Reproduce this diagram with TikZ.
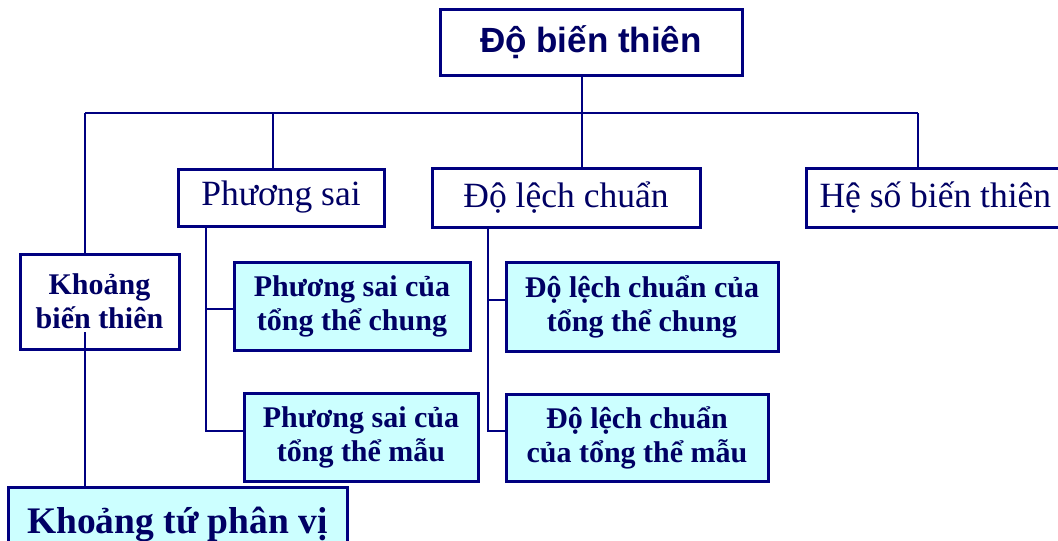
\documentclass[tikz,border=0pt]{standalone}
\usepackage{fontspec}
\setmainfont{Liberation Serif}
\newfontfamily\arialfont{Liberation Sans}
\definecolor{navyline}{RGB}{0,0,128}
\definecolor{navytext}{RGB}{0,0,100}
\definecolor{lightcyan}{RGB}{204,255,255}
\begin{document}
\begin{tikzpicture}[x=1pt,y=-1pt,
  box/.style={draw=navyline,line width=3pt,text=navytext,inner sep=0pt,align=center},
  whitebox/.style={box,fill=white},
  cyanbox/.style={box,fill=lightcyan},
  big/.style={font=\fontsize{35.5}{40}\selectfont},
  small/.style={font=\fontsize{30}{34}\selectfont\bfseries},
  link/.style={draw=navyline,line width=2.6pt}]
\useasboundingbox (0,0) rectangle (1058,541);
\clip (0,0) rectangle (1058,541);
% nodes
\node[whitebox,minimum width=302,minimum height=66,font=\arialfont\bfseries\fontsize{35}{40}\selectfont] (top) at (591,42) {Độ biến thiên};
\node[whitebox,big,minimum width=206,minimum height=57] (ps) at (281,197.5) {Phương sai};
\node[whitebox,big,minimum width=268,minimum height=59] (dlc) at (566,197.5) {Độ lệch chuẩn};
\node[whitebox,big,minimum height=59,inner xsep=13pt,anchor=west] (hs) at (805,197.5) {Hệ số biến thiên};
\node[whitebox,small,minimum width=159,minimum height=95] (kbt) at (99.5,301.5) {Khoảng\\biến thiên};
\node[cyanbox,small,minimum width=236,minimum height=88] (psc) at (352,306) {Phương sai của\\tổng thể chung};
\node[cyanbox,small,minimum width=234,minimum height=88] (psm) at (361,437) {Phương sai của\\tổng thể mẫu};
\node[cyanbox,small,minimum width=272,minimum height=89] (dlcc) at (642,306.5) {Độ lệch chuẩn của\\tổng thể chung};
\node[cyanbox,small,minimum width=262,minimum height=87] (dlcm) at (637,437.5) {Độ lệch chuẩn\\của tổng thể mẫu};
\node[cyanbox,minimum width=339,minimum height=74,anchor=north,font=\fontsize{37.5}{42}\selectfont\bfseries] (ktpv) at (177.5,486) {\raisebox{9pt}{Khoảng tứ phân vị}};
% junction coordinates
\coordinate (bk) at (85,113);
\coordinate (bp) at (273,113);
\coordinate (bt) at (582,113);
\coordinate (bh) at (918,113);
\coordinate (kx) at (85,332);
\coordinate (pv) at (206,309);
\coordinate (pm) at (206,431);
\coordinate (dv) at (488,300);
\coordinate (dm) at (488,431);
% connectors
\path[link] (bk) -- (bh);
\path[link] (bt) -- (bt |- top.south);
\path[link] (bt) -- (bt |- dlc.north);
\path[link] (bp) -- (bp |- ps.north);
\path[link] (bh) -- (bh |- hs.north);
\path[link] (bk) -- (bk |- kbt.north);
\path[link] (kx) -- (kx |- ktpv.north);
\path[link] (pv |- ps.south) -- (pm) -- (pm -| psm.west);
\path[link] (pv) -- (pv -| psc.west);
\path[link] (dv |- dlc.south) -- (dm) -- (dm -| dlcm.west);
\path[link] (dv) -- (dv -| dlcc.west);
\end{tikzpicture}
\end{document}
